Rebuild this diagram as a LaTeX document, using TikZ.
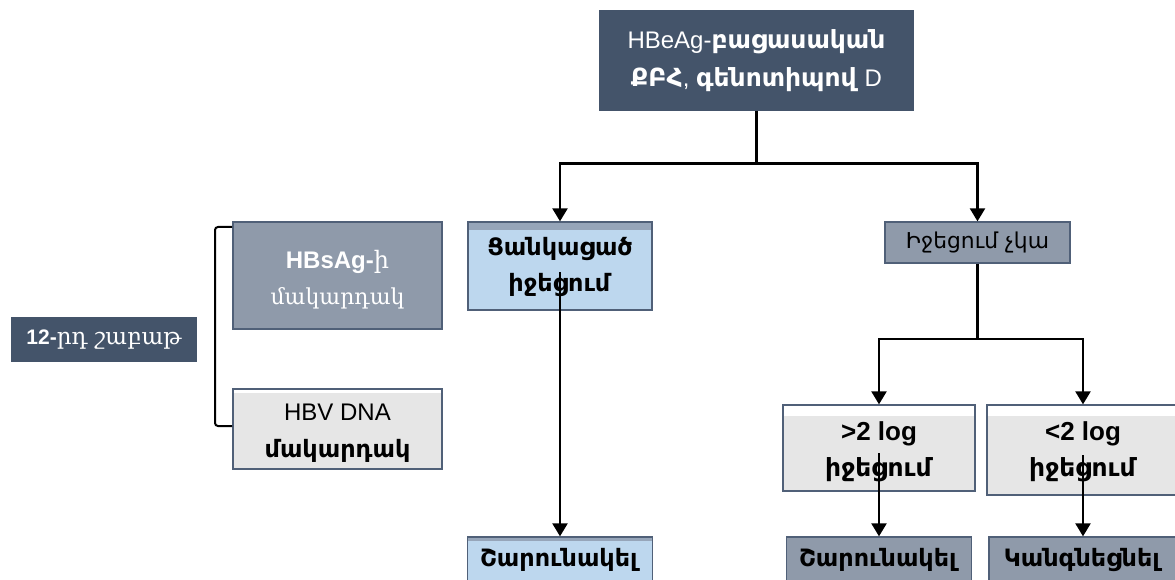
\documentclass[tikz,border=0pt]{standalone}
\usepackage{fontspec}
\setmainfont{Liberation Sans}
\newfontfamily\arm[Scale=1.04]{DejaVu Sans}
\newfontfamily\armserif{DejaVu Serif}
\usetikzlibrary{arrows.meta}
\definecolor{slate}{RGB}{68,84,106}
\definecolor{grayblue}{RGB}{143,154,170}
\definecolor{lightblue}{RGB}{189,215,238}
\definecolor{bandblue}{RGB}{150,165,185}
\definecolor{lightgray}{RGB}{230,230,230}
\definecolor{edge}{RGB}{80,96,120}
\newcommand\A[1]{{\arm #1}}
\newcommand\AS[1]{{\armserif #1}}
\tikzset{
  box/.style={rectangle, draw=edge, line width=1.3pt, inner sep=2pt, align=center, anchor=center},
  darkbox/.style={box, fill=slate, draw=slate, text=white},
  graybox/.style={box, fill=grayblue, text=black},
  bluebox/.style={box, fill=lightblue, text=black,
    path picture={\fill[bandblue] (path picture bounding box.north west) rectangle ([yshift=-8pt]path picture bounding box.north east);}},
  lgraybox/.style={box, fill=lightgray, text=black,
    path picture={\fill[white] (path picture bounding box.north west) rectangle ([yshift=-11pt]path picture bounding box.north east);}},
  thinband/.style={path picture={\fill[white] (path picture bounding box.north west) rectangle ([yshift=-4pt]path picture bounding box.north east);}},
  arr/.style={line width=2.3pt, -{Triangle[width=15pt,length=13pt]}},
  conn/.style={line width=2.3pt},
  txt/.style={align=center, inner sep=0pt},
}
\begin{document}
\begin{tikzpicture}[x=1pt,y=-1pt]
\useasboundingbox[fill=white] (0,0) rectangle (1175,580);
% boxes
\node[darkbox, minimum width=313pt, minimum height=99pt] (top) at (756.5,60.5) {};
\node[txt, text=white, font=\fontsize{24}{38}\selectfont] at (top.center)
  {HBeAg-\textbf{\A{բացասական}}\\\textbf{\A{ՔԲՀ}}, \textbf{\A{գենոտիպով}} D};
\node[bluebox, minimum width=184pt, minimum height=88pt] (zank) at (560,266) {};
\node[txt, font=\fontsize{23}{36}\selectfont] at ([yshift=-1pt]zank.center)
  {\textbf{\A{Ցանկացած}}\\\textbf{\A{իջեցում}}};
\node[graybox, minimum width=185pt, minimum height=41pt, font=\fontsize{21}{26}\selectfont] (nochg) at (977.5,242.5)
  {\A{Իջեցում չկա}};
\node[graybox, minimum width=209pt, minimum height=107pt] (hbs) at (337.5,275.5) {};
\node[txt, text=white, font=\fontsize{24}{36}\selectfont] at ([yshift=-4pt]hbs.center)
  {\textbf{HBsAg-}\AS{ի}\\\AS{\fontsize{22}{36}\selectfont մակարդակ}};
\node[lgraybox, thinband, minimum width=209pt, minimum height=80pt] (hbv) at (337.5,429) {};
\node[txt, font=\fontsize{23}{37}\selectfont] at ([yshift=-4pt]hbv.center)
  {\fontsize{24}{37}\selectfont HBV DNA\\\textbf{\A{մակարդակ}}};
\node[darkbox, minimum width=184pt, minimum height=43pt, font=\fontsize{21}{26}\selectfont] (week) at (104,339.5)
  {\textbf{12-}\AS{\fontsize{23}{26}\selectfont րդ շաբաթ}};
\node[lgraybox, minimum width=192pt, minimum height=86pt] (gt2) at (879,448) {};
\node[txt, font=\fontsize{26}{36}\selectfont] at ([yshift=-4pt]gt2.center)
  {\textbf{>2 log}\\\textbf{\A{\fontsize{24}{36}\selectfont իջեցում}}};
\node[lgraybox, minimum width=192pt, minimum height=90pt] (lt2) at (1083,450) {};
\node[txt, font=\fontsize{26}{36}\selectfont] at ([yshift=-2pt]lt2.center)
  {\textbf{<2 log}\\\textbf{\A{\fontsize{24}{36}\selectfont իջեցում}}};
\node[bluebox, minimum width=185pt, minimum height=46pt, font=\fontsize{23}{26}\selectfont,
  path picture={\fill[bandblue] (path picture bounding box.north west) rectangle ([yshift=-4pt]path picture bounding box.north east);}] (cont1) at (560,560)
  {\textbf{\A{Շարունակել}}};
\node[graybox, minimum width=185pt, minimum height=46pt, font=\fontsize{23}{26}\selectfont] (cont2) at (879,560)
  {\textbf{\A{Շարունակել}}};
\node[graybox, minimum width=188pt, minimum height=46pt, font=\fontsize{23}{26}\selectfont] (stop) at (1083,560)
  {\textbf{\A{Կանգնեցնել}}};
% connectors
\coordinate (split1) at ([yshift=-53pt]top.south);
\draw[conn] (top.south) -- (split1);
\draw[arr] (split1) -| (zank.north);
\draw[arr] (split1) -| (nochg.north);
\coordinate (split2) at ([yshift=-75pt]nochg.south);
\draw[conn] (nochg.south) -- (split2);
\draw[arr] (split2) -| (gt2.north);
\draw[arr] (split2) -| (lt2.north);
\draw[arr] ([yshift=-6pt]zank.center) -- (cont1.north);
\draw[arr] ([yshift=-5pt]gt2.center) -- (cont2.north);
\draw[arr] ([yshift=-5pt]lt2.center) -- (stop.north);
% bracket
\coordinate (bt) at (232,227);
\coordinate (bb) at (232,426);
\draw[line width=2pt, rounded corners=3pt] (bt) -- (215,227) -- (215,426) -- (bb);
\end{tikzpicture}
\end{document}
